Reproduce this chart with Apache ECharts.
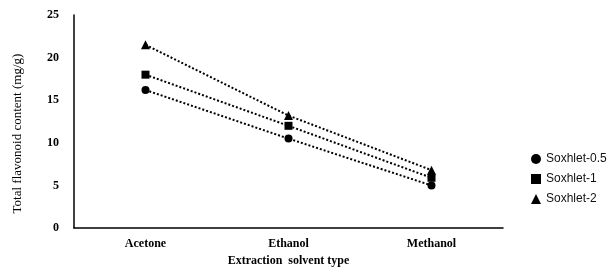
<!DOCTYPE html>
<html><head><meta charset="utf-8">
<script src="https://cdn.jsdelivr.net/npm/echarts@6/dist/echarts.min.js"></script>
<style>html,body{margin:0;padding:0;background:#fff}#c{width:610px;height:272px}</style>
</head><body><div id="c"></div>
<script>
var categories = ['Acetone', 'Ethanol', 'Methanol'];
var soxhlet05 = [16.2, 10.5, 5.0];
var soxhlet1 = [18.0, 12.0, 5.9];
var soxhlet2 = [21.5, 13.2, 6.8];
var seriesNames = ['Soxhlet-0.5', 'Soxhlet-1', 'Soxhlet-2'];
var yTicks = [0, 5, 10, 15, 20, 25];

var chart = echarts.init(document.getElementById('c'));
var serif = 'Liberation Serif';
function mk(name, data, sym, size) {
  return {
    name: name, type: 'line', data: data, symbol: sym, symbolSize: size,
    lineStyle: {color: '#000', width: 2, type: [2, 2]},
    itemStyle: {color: '#000'}, silent: true, animation: false
  };
}
chart.setOption({
  animation: false,
  grid: {left: 74, right: 107, top: 15, bottom: 43},
  legend: {
    orient: 'vertical', left: 526, top: 148, itemGap: 8,
    itemWidth: 10, itemHeight: 10,
    textStyle: {fontFamily: 'Liberation Sans', fontSize: 12, color: '#111'},
    data: [
      {name: seriesNames[0], icon: 'circle'},
      {name: seriesNames[1], icon: 'rect'},
      {name: seriesNames[2], icon: 'triangle'}
    ]
  },
  xAxis: {
    type: 'category', data: categories, boundaryGap: true,
    name: 'Extraction  solvent type', nameLocation: 'middle', nameGap: 26,
    nameTextStyle: {fontFamily: serif, fontWeight: 'bold', fontSize: 12, color: '#000'},
    axisLine: {lineStyle: {color: '#000', width: 1.5}},
    axisTick: {show: false},
    axisLabel: {fontFamily: serif, fontWeight: 'bold', fontSize: 12, color: '#000', margin: 10}
  },
  yAxis: {
    type: 'value', min: yTicks[0], max: yTicks[yTicks.length - 1], interval: 5,
    name: 'Total flavonoid content (mg/g)', nameLocation: 'middle', nameGap: 50, nameRotate: 90,
    nameTextStyle: {fontFamily: serif, fontSize: 13, color: '#000', padding: [0, 24, 0, 0]},
    axisLine: {show: true, lineStyle: {color: '#000', width: 1.5}},
    axisTick: {show: false},
    splitLine: {show: false},
    axisLabel: {fontFamily: serif, fontWeight: 'bold', fontSize: 12, color: '#000', margin: 15}
  },
  series: [
    mk(seriesNames[0], soxhlet05, 'circle', 8),
    mk(seriesNames[1], soxhlet1, 'rect', 8),
    mk(seriesNames[2], soxhlet2, 'triangle', 9)
  ]
});
</script></body></html>
